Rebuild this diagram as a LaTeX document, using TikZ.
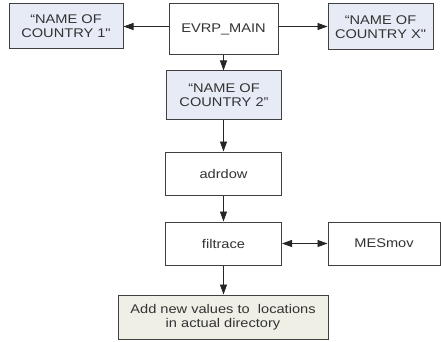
\documentclass[tikz,border=0pt]{standalone}
\usepackage{fontspec}
\setmainfont{Liberation Sans}
\newfontfamily\diagfont[FakeStretch=1.16]{Liberation Sans}
\usetikzlibrary{arrows.meta}
\definecolor{boxline}{HTML}{404040}
\definecolor{bluefill}{HTML}{E6EBF5}
\definecolor{beigefill}{HTML}{EFEFE6}
\definecolor{txt}{HTML}{333333}
\begin{document}
\begin{tikzpicture}[x=1pt,y=-1pt,
  box/.style={draw=boxline,line width=1pt,fill=white,align=center,inner sep=0pt,
    font=\diagfont\fontsize{12.6}{14}\selectfont,text=txt},
  country/.style={box,fill=bluefill},
  endbox/.style={box,fill=beigefill},
  conn/.style={draw=black!85,line width=0.9pt,-{Triangle[length=10pt,width=7pt]}},
  bconn/.style={draw=black!85,line width=0.9pt,{Triangle[length=10pt,width=7pt]}-{Triangle[length=10pt,width=7pt]}}]
\useasboundingbox (0,0) rectangle (441,342);
\node[country,minimum width=114pt,minimum height=45pt] (c1) at (66,26.5) {“NAME OF\\COUNTRY 1"};
\node[box,minimum width=109pt,minimum height=51pt] (main) at (223.5,29.5) {EVRP\_MAIN};
\node[country,minimum width=105pt,minimum height=46pt] (cx) at (380.5,27) {“NAME OF\\COUNTRY X"};
\node[country,minimum width=115pt,minimum height=48pt] (c2) at (224,95) {“NAME OF\\COUNTRY 2”};
\node[box,minimum width=116pt,minimum height=43pt] (adr) at (223.5,173.5) {adrdow};
\node[box,minimum width=116pt,minimum height=43pt] (filt) at (223.5,243.5) {filtrace};
\node[box,minimum width=112pt,minimum height=43pt] (mes) at (384,243.5) {MESmov};
\node[endbox,minimum width=210pt,minimum height=44pt] (add) at (223,317) {Add new values to\ \ locations\\in actual directory};
\draw[conn] (main.west |- c1.east) -- (c1.east);
\draw[conn] (main.east |- c1.east) -- (main.east |- c1.east -| cx.west);
\draw[conn] (main.south) -- (main.south |- c2.north);
\draw[conn] (c2.south -| adr.north) -- (adr.north);
\draw[conn] (adr.south) -- (filt.north);
\draw[bconn] (filt.east) -- (mes.west);
\draw[conn] (filt.south) -- (filt.south |- add.north);
\end{tikzpicture}
\end{document}
